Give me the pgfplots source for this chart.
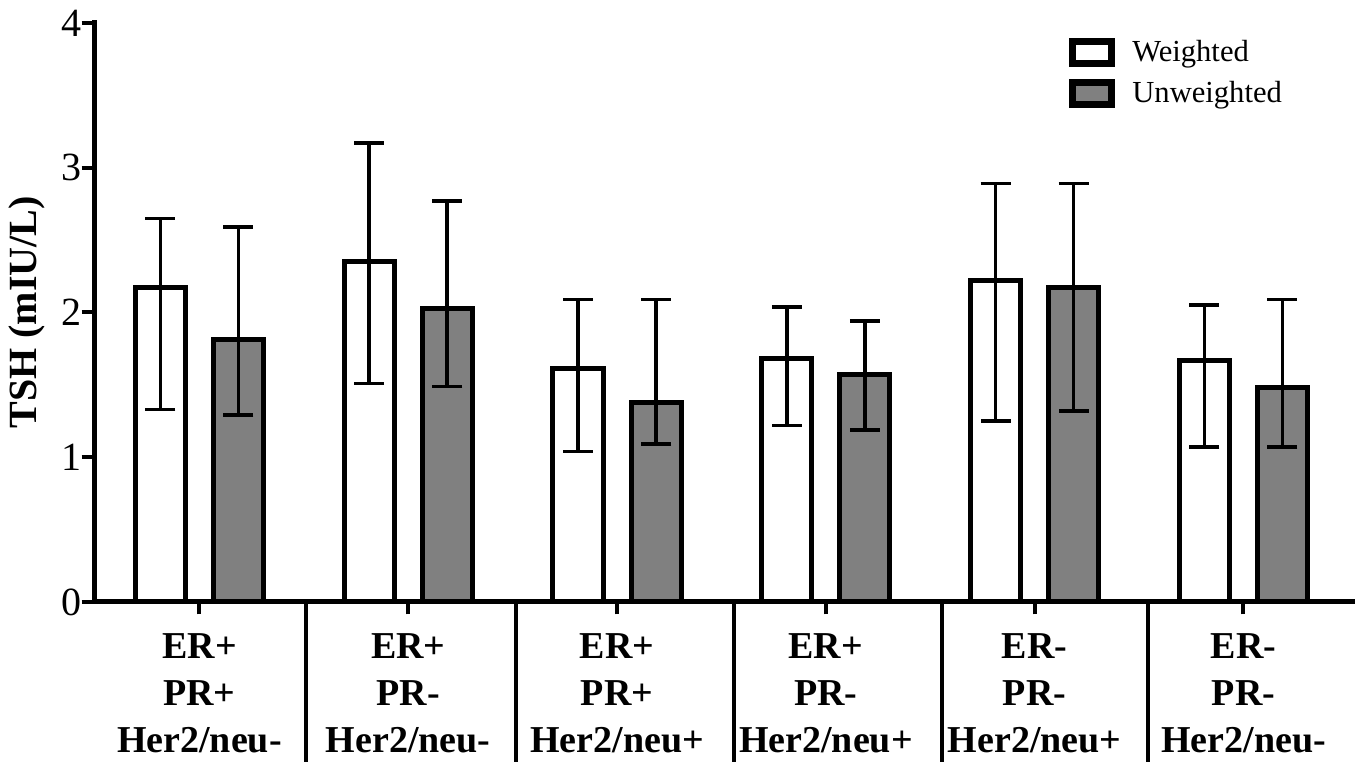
\documentclass[border=0pt]{standalone}
\usepackage{fontspec}
\setmainfont{Liberation Serif}
\usepackage{pgfplots}
\usepackage{pgfplotstable}
\pgfplotsset{compat=1.18}
\pgfplotstableread{
x y ep em
0 2.17 0.48 0.84
1 2.35 0.82 0.84
2 1.61 0.48 0.57
3 1.68 0.36 0.46
4 2.22 0.67 0.97
5 1.67 0.38 0.60
}\weighted
\pgfplotstableread{
x y ep em
0 1.81 0.78 0.52
1 2.03 0.74 0.54
2 1.38 0.71 0.29
3 1.57 0.37 0.38
4 2.17 0.72 0.85
5 1.48 0.61 0.41
}\unweighted
\definecolor{bargray}{HTML}{808080}
\begin{document}
\begin{tikzpicture}
\begin{axis}[
  width=629pt, height=289.5pt, scale only axis,
  ybar, bar width=0.24,
  xmin=-0.505, xmax=5.52, ymin=0, ymax=4,
  axis x line=bottom, axis y line=left,
  axis line style={-, line width=2.5pt, line cap=rect},
  ytick={0,1,2,3,4},
  xtick={0,1,2,3,4,5},
  xticklabels={{ER+\\PR+\\Her2/neu-},{ER+\\PR-\\Her2/neu-},{ER+\\PR+\\Her2/neu+},{ER+\\PR-\\Her2/neu+},{ER-\\PR-\\Her2/neu+},{ER-\\PR-\\Her2/neu-}},
  extra x ticks={0.51,1.517,2.56,3.558,4.545},
  extra x tick labels={},
  extra x tick style={major tick length=80pt, tick style={line width=2pt, black}},
  tick align=outside,
  major tick length=6.2pt,
  tick style={line width=2pt, black},
  /pgf/number format/assume math mode=true,
  yticklabel style={font=\fontsize{20}{24}\selectfont, inner sep=0pt, xshift=0pt},
  xticklabel style={font=\fontsize{19}{23.5}\selectfont\bfseries, align=center, anchor=north, inner sep=0pt, yshift=-9.5pt},
  ylabel={TSH (mIU/L)},
  ylabel style={font=\fontsize{20}{24}\selectfont\bfseries, at={(axis description cs:-0.0533,0.5)}, anchor=center},
  legend style={draw=none, fill=none, at={(axis description cs:0.775,0.977)}, anchor=north west, inner sep=0pt, font=\fontsize{15.3}{18}\selectfont, row sep=4pt,
    /tikz/every odd column/.style={column sep=6.5pt}},
  legend cell align=left,
  error bars/y dir=both, error bars/y explicit,
  error bars/error bar style={line width=1.8pt, black},
  error bars/error mark options={line width=1.8pt, mark size=7.5pt, black, rotate=90},
]
\addplot[bar shift=-0.187, fill=white, draw=black, line width=2.5pt,
  legend image code/.code={\draw[fill=white, line width=3.5pt] (0pt,-5.5pt) rectangle (19.5pt,5.5pt);}]
  table[x=x, y=y, y error plus=ep, y error minus=em] {\weighted};
\addlegendentry{Weighted}
\addplot[bar shift=0.187, fill=bargray, draw=black, line width=2.5pt,
  legend image code/.code={\draw[fill=bargray, line width=3.5pt] (0pt,-5.5pt) rectangle (19.5pt,5.5pt);}]
  table[x=x, y=y, y error plus=ep, y error minus=em] {\unweighted};
\addlegendentry{Unweighted}
\end{axis}
\pgfresetboundingbox
\path ([shift={(-47pt,-80pt)}]current axis.south west) rectangle ([shift={(4pt,11.5pt)}]current axis.north east);
\end{tikzpicture}
\end{document}
